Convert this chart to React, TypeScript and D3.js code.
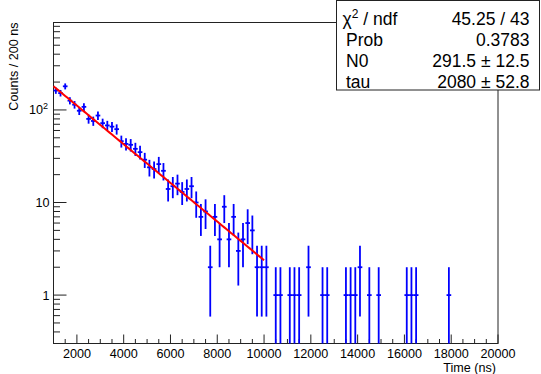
import * as d3 from 'd3'

// histogram: 200 ns bins from 1000 to 20000 ns
const binLow = 1000;
const binWidth = 200;
const counts = [
    162, 152, 180, 126, 114, 98, 108, 80, 76, 87,
    72, 68, 66, 62, 46, 43, 42, 38, 35, 29,
    24, 23, 26, 22, 14, 15, 16, 13, 14, 15,
    10, 7, 8, 2, 7, 4, 9, 4, 7, 3,
    4, 6, 5, 2, 2, 2, 0, 1, 1, 0,
    1, 1, 1, 0, 2, 0, 0, 1, 1, 0,
    0, 0, 1, 1, 1, 2, 0, 1, 0, 1,
    0, 0, 0, 0, 0, 1, 1, 1, 0, 0,
    0, 0, 0, 0, 1, 0, 0, 0, 0, 0,
    0, 0, 0, 0, 0,
];

// fit result
const fitN0 = 291.5;
const fitTau = 2080;
const fitRange = [1000, 10000];

const xTicks = [2000, 4000, 6000, 8000, 10000, 12000, 14000, 16000, 18000, 20000];
const yTicks = [1, 10, 100];

const statsLabels = ['χ2 / ndf', 'Prob', 'N0', 'tau'];
const statsValues = ['45.25 / 43', '0.3783', '291.5 ± 12.5', '2080 ± 52.8'];

const W = 541, H = 374;
const frame = { left: 53.5, right: 498, top: 22.5, bottom: 343.5 };
const font = 'Liberation Sans, Arial, Helvetica, sans-serif';

const App = () => {
    const x = d3.scaleLinear().domain([1000, 20000]).range([frame.left, frame.right]);
    const y = d3.scaleLog().domain([0.3, 880]).range([frame.bottom, frame.top]);
    const yc = (v: number) => Math.max(frame.top, Math.min(frame.bottom, v <= 0 ? frame.bottom : y(v)));

    const bins = counts.map((n, i) => ({ lo: binLow + i * binWidth, n }))
        .filter(b => b.n > 0);

    const minorX = d3.range(1000, 20001, 500).filter(v => v % 2000 !== 0);
    const minorY: number[] = [];
    [0.1, 1, 10, 100].forEach(d => {
        for (let k = 2; k <= 9; k++) {
            const v = d * k;
            if (v >= 0.3 && v <= 880) minorY.push(v);
        }
    });

    const fitLine = d3.line<number>()
        .x(t => x(t))
        .y(t => y(fitN0 * Math.exp(-t / fitTau)));
    const fitPts = d3.range(fitRange[0], fitRange[1] + 1, 100);

    return (
        <svg width={W} height={H} style={{ position: 'absolute', left: 0, top: 0, background: '#fff' }}
            fontFamily={font}>
            <rect x={0} y={0} width={W} height={H} fill="#fff" />

            {/* frame */}
            <rect x={frame.left} y={frame.top} width={frame.right - frame.left} height={frame.bottom - frame.top}
                fill="none" stroke="#222" strokeWidth={1} />

            {/* x ticks */}
            {xTicks.map(v => (
                <line key={'xt' + v} x1={x(v)} x2={x(v)} y1={frame.bottom} y2={frame.bottom - 9} stroke="#222" />
            ))}
            {minorX.map(v => (
                <line key={'xm' + v} x1={x(v)} x2={x(v)} y1={frame.bottom} y2={frame.bottom - 4.5} stroke="#222" />
            ))}
            {xTicks.map(v => (
                <text key={'xl' + v} x={x(v)} y={357.5} fontSize={12.6} textAnchor="middle">{v}</text>
            ))}
            <text x={496} y={371.5} fontSize={12.6} textAnchor="end">Time (ns)</text>

            {/* y ticks */}
            {yTicks.map(v => (
                <line key={'yt' + v} x1={frame.left} x2={frame.left + 13} y1={y(v)} y2={y(v)} stroke="#222" />
            ))}
            {minorY.map(v => (
                <line key={'ym' + v} x1={frame.left} x2={frame.left + 6.5} y1={y(v)} y2={y(v)} stroke="#222" />
            ))}
            <text x={49.5} y={y(1) + 4.5} fontSize={12.6} textAnchor="end">1</text>
            <text x={49.5} y={y(10) + 4.5} fontSize={12.6} textAnchor="end">10</text>
            <text x={43} y={y(100) + 4.5} fontSize={12.6} textAnchor="end">10</text>
            <text x={43} y={y(100) - 1} fontSize={9}>2</text>
            <text transform={`translate(18,${frame.top}) rotate(-90)`} fontSize={12.6} textAnchor="end">Counts / 200 ns</text>

            {/* data with errors */}
            <g stroke="#0000ff" strokeWidth={1.8}>
                {bins.map(b => {
                    const cx = x(b.lo + binWidth / 2);
                    const e = Math.sqrt(b.n);
                    return (
                        <g key={'b' + b.lo}>
                            <line x1={cx} x2={cx} y1={yc(b.n - e)} y2={yc(b.n + e)} />
                            <line x1={x(b.lo)} x2={x(b.lo + binWidth)} y1={y(b.n)} y2={y(b.n)} />
                        </g>
                    );
                })}
            </g>

            {/* fit */}
            <path d={fitLine(fitPts) ?? ''} fill="none" stroke="#ff0000" strokeWidth={2} />

            {/* stats box */}
            <rect x={336.5} y={0.5} width={203} height={89.5} fill="#fff" stroke="#222" strokeWidth={1} />
            {statsLabels.map((s, i) => (
                <text key={'sl' + i} x={i === 0 ? 342.5 : 346} y={24.5 + 21 * i} fontSize={17.5}>
                    {i === 0 ? <>χ<tspan fontSize={12} dy={-6.5}>2</tspan><tspan dy={6.5}> / ndf</tspan></> : s}
                </text>
            ))}
            {statsValues.map((s, i) => (
                <text key={'sv' + i} x={529.5} y={24.5 + 21 * i} fontSize={17.5} textAnchor="end">{s}</text>
            ))}
        </svg>
    );
};

export default App;
